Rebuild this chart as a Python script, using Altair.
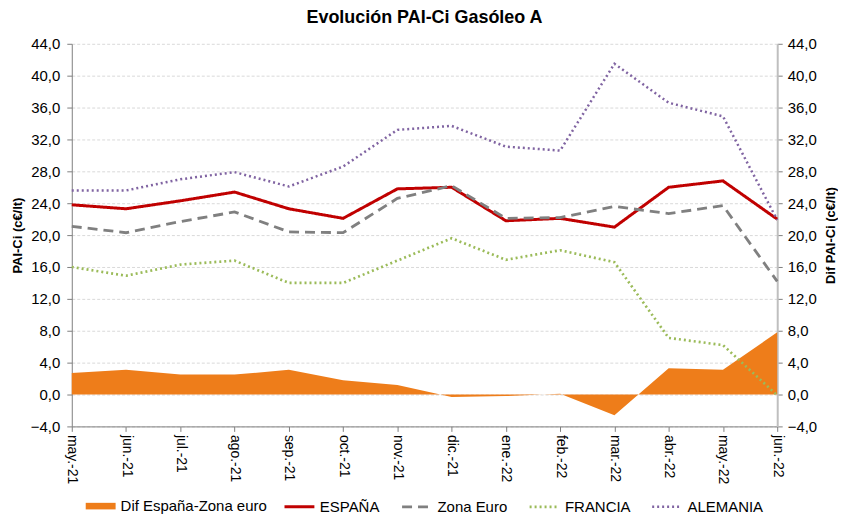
import altair as alt
import pandas as pd

meses = ["may.-21", "jun.-21", "jul.-21", "ago.-21", "sep.-21", "oct.-21", "nov.-21",
         "dic.-21", "ene.-22", "feb.-22", "mar.-22", "abr.-22", "may.-22", "jun.-22"]

espana = [23.8, 23.3, 24.3, 25.4, 23.3, 22.1, 25.8, 26.0, 21.8, 22.1, 21.0, 26.0, 26.8, 22.0]
zona_euro = [21.1, 20.3, 21.7, 22.9, 20.4, 20.3, 24.6, 26.2, 22.1, 22.2, 23.6, 22.7, 23.7, 14.2]
francia = [16.0, 14.9, 16.3, 16.8, 14.0, 14.0, 16.8, 19.6, 16.9, 18.1, 16.6, 7.1, 6.2, -0.1]
alemania = [25.6, 25.6, 27.0, 27.9, 26.1, 28.6, 33.2, 33.7, 31.1, 30.6, 41.5, 36.6, 34.9, 21.9]
dif = [2.7, 3.1, 2.5, 2.5, 3.1, 1.8, 1.2, -0.3, -0.2, 0.1, -2.6, 3.3, 3.1, 7.8]

series_names = ["ESPAÑA", "Zona Euro", "FRANCIA", "ALEMANIA"]
series_colors = ["#C00000", "#808080", "#9BBB59", "#8064A2"]
series_dash = [[1, 0], [10, 6], [2, 3], [2, 3]]
series_width = [3, 2.5, 2.2, 2.2]
area_name = "Dif España-Zona euro"
area_color = "#EE7D1A"

y_ticks = list(range(-4, 45, 4))

rows = []
for name, vals in zip(series_names, [espana, zona_euro, francia, alemania]):
    for m, v in zip(meses, vals):
        rows.append({"mes": m, "serie": name, "valor": v})
lines_df = pd.DataFrame(rows)
area_df = pd.DataFrame({"mes": meses, "dif": dif, "serie": [area_name] * len(meses)})

FONT = "Liberation Sans"
label_expr = "replace(format(datum.value, '.1f'), '.', ',')"

x_enc = alt.X(
    "mes:O", sort=meses, title=None,
    scale=alt.Scale(type="point", padding=0),
    axis=alt.Axis(labelAngle=90, labelFontSize=14, labelColor="#000000",
                  domainColor="#808080", tickColor="#808080", tickSize=5,
                  labelPadding=3, grid=False),
)

area = alt.Chart(area_df).mark_area(opacity=1).encode(
    x=x_enc,
    y=alt.Y("dif:Q", title="Dif PAI-Ci (c€/lt)",
            scale=alt.Scale(domain=[-4, 44], nice=False, zero=False),
            axis=alt.Axis(orient="right", values=y_ticks, labelExpr=label_expr,
                          grid=False, domainColor="#BFBFBF", domainWidth=2,
                          tickColor="#808080", tickSize=5,
                          titleAngle=270, titleBaseline="top",
                          titleFontSize=13, titleFontWeight="bold",
                          labelFontSize=15, labelColor="#000000", labelPadding=5,
                          titlePadding=8)),
    y2=alt.datum(0),
    fill=alt.Fill("serie:N", title=None,
                  scale=alt.Scale(domain=[area_name], range=[area_color]),
                  legend=alt.Legend(orient="none", legendX=13, legendY=448,
                                    symbolType="M-1,-0.22H1V0.22H-1Z",
                                    symbolSize=900, labelFontSize=15,
                                    labelOffset=4)),
)

line_legend = dict(orient="none", legendX=212, legendY=448,
                   direction="horizontal", symbolType="stroke",
                   symbolSize=900, symbolStrokeWidth=2.5,
                   labelFontSize=15, labelOffset=4, columnPadding=16)

lines = alt.Chart(lines_df).mark_line().encode(
    x=x_enc,
    y=alt.Y("valor:Q", title="PAI-Ci (c€/lt)",
            scale=alt.Scale(domain=[-4, 44], nice=False, zero=False),
            axis=alt.Axis(orient="left", values=y_ticks, labelExpr=label_expr,
                          grid=True, gridDash=[3, 2], gridColor="#D9D9D9",
                          domainColor="#808080", tickColor="#808080", tickSize=5,
                          titleFontSize=13, titleFontWeight="bold",
                          labelFontSize=15, labelColor="#000000", labelPadding=7,
                          titlePadding=6)),
    stroke=alt.Stroke("serie:N", title=None, sort=series_names,
                      scale=alt.Scale(domain=series_names, range=series_colors),
                      legend=alt.Legend(**line_legend)),
    strokeDash=alt.StrokeDash("serie:N", title=None, sort=series_names,
                              scale=alt.Scale(domain=series_names, range=series_dash),
                              legend=alt.Legend(**line_legend)),
    strokeWidth=alt.StrokeWidth("serie:N", sort=series_names,
                                scale=alt.Scale(domain=series_names, range=series_width),
                                legend=None),
)

chart = alt.layer(area, lines).resolve_scale(
    y="independent"
).properties(
    width=708, height=384,
    title=alt.Title("Evolución PAI-Ci Gasóleo A", fontSize=18, fontWeight="bold",
                    font=FONT, color="#000000", offset=10),
    padding={"left": 3, "right": 0, "top": 0, "bottom": 0},
).configure(font=FONT).configure_view(stroke=None).configure_legend(
    labelFont=FONT, labelColor="#000000"
)

chart.save("out.html", embed_options={"renderer": "svg", "actions": False})
